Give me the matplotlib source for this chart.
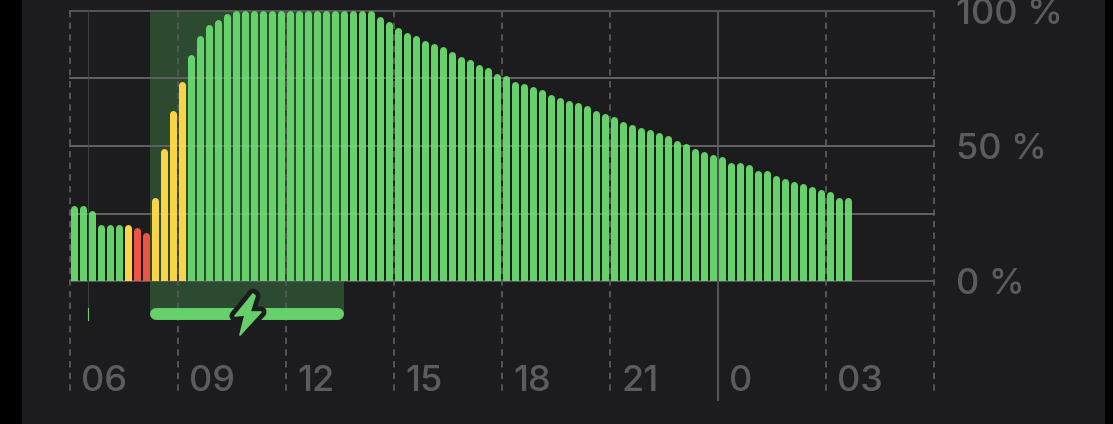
import numpy as np
import matplotlib
matplotlib.use('Agg')
import matplotlib.pyplot as plt
from matplotlib.patches import PathPatch, Rectangle
from matplotlib.path import Path

# battery level per 15 min, starting at 06:00
levels = [28, 28, 26, 21, 21, 21, 21, 20, 18, 31, 49, 63, 74, 84, 91, 95, 97, 99,
          100, 100, 100, 100, 100, 100, 100, 100, 100, 100, 100, 100, 100, 100, 100, 100,
          98, 96, 94, 92, 91, 89, 88, 87, 85, 83, 82, 80, 79, 77, 76, 74, 73, 72, 71,
          69, 68, 67, 66, 65, 63, 62, 61, 59, 58, 57, 56, 55, 54, 52, 51, 49, 48, 47,
          46, 44, 44, 43, 41, 41, 39, 38, 37, 36, 35, 34, 33, 31, 31]
yellow_bars = [6, 9, 10, 11, 12]
red_bars = [7, 8]

hour_ticks = [6, 9, 12, 15, 18, 21, 24, 27, 30]
hour_labels = ['06', '09', '12', '15', '18', '21', '0', '03']
pct_ticks = [0, 50, 100]
pct_labels = ['0 %', '50 %', '100 %']
grid_levels = [0, 25, 50, 75, 100]
charge_start = 8.22
charge_end = 13.61

BG = '#1c1c1e'
GREEN = '#66d06a'
YELLOW = '#f9d545'
RED = '#ec5545'
GRID = '#565658'
TEXT = '#5c5c5e'
SHADE = '#2c4a2f'
DASH = (0, (3.25, 2.75))

plt.rcParams['font.family'] = ['Inter', 'DejaVu Sans']

fig = plt.figure(figsize=(11.13, 4.24), dpi=100, facecolor='black')
ax = fig.add_axes([0, 0, 1, 1])
ax.set_xlim(6 - 70 / 36, 6 + 1043 / 36)
ax.set_ylim((281 - 424) / 2.7, 281 / 2.7)
ax.axis('off')


def px(x, y):
    return 6 + (x - 70) / 36, (281 - y) / 2.7


# panel
ax.add_patch(Rectangle(px(22, 424), 1083 / 36, 424 / 2.7, fc=BG, ec='none', zorder=0))

# charging band
ax.axvspan(charge_start, charge_end, ymin=(424 - 314) / 424, ymax=(424 - 11) / 424,
           fc=SHADE, ec='none', zorder=1)

# grid
y_low = px(0, 396)[1]
for g in grid_levels:
    ax.plot([hour_ticks[0], hour_ticks[-1]], [g, g], color=GRID, lw=1.4, zorder=2)
for h in hour_ticks:
    if h == 24:
        ax.plot([h, h], [100, px(0, 400)[1]], color=GRID, lw=1.4, zorder=2)
    else:
        ax.plot([h, h], [100, y_low], color=GRID, lw=1.4, ls=DASH, zorder=2)
ax.plot([6.5, 6.5], [100, px(0, 320)[1]], color='#3a3e3c', lw=0.8, zorder=2)
ax.plot([6.5, 6.5], [px(0, 308)[1], px(0, 320)[1]], color=GREEN, lw=0.8, zorder=2)

# bars, round top and flat foot
levels = np.array(levels)
xs = 6 + 0.115 + np.arange(len(levels)) * 0.25
colours = np.array([GREEN] * len(levels), dtype=object)
colours[yellow_bars] = YELLOW
colours[red_bars] = RED
cap = 3.5 / 2.7
lines = ax.vlines(xs, 0, levels - cap, colors=list(colours), lw=5.05, capstyle='round', zorder=3)
lines.set_clip_path(Rectangle((4, 0), 32, 110, transform=ax.transData))

# grid shows faintly through the bars
for g in grid_levels[1:-1]:
    ax.plot([hour_ticks[0], hour_ticks[-1]], [g, g], color='white', alpha=0.07, lw=1.4, zorder=3.5)

# charging bar and bolt
bar_y = px(0, 314)[1]
ax.plot([charge_start + 6 / 36, charge_end - 6 / 36], [bar_y, bar_y], color=GREEN, lw=8.6,
        solid_capstyle='round', zorder=4)
bolt_px = [(253, 294), (235, 316), (245, 315), (240, 335), (261, 312), (250, 312), (255, 296), (253, 294)]
bolt = Path([px(*p) for p in bolt_px], closed=True)
ax.add_patch(PathPatch(bolt, fc=BG, ec=BG, lw=8, joinstyle='round', zorder=5))
ax.add_patch(PathPatch(bolt, fc=GREEN, ec=GREEN, lw=1.2, joinstyle='round', zorder=6))

# labels
for h, lab in zip(hour_ticks, hour_labels):
    ax.text(h + 11 / 36, px(0, 378)[1], lab, color=TEXT, fontsize=26, fontweight='medium',
            ha='left', va='center_baseline', zorder=7)
for p, lab in zip(pct_ticks, pct_labels):
    ax.text(px(956, 0)[0], p, lab, color=TEXT, fontsize=26, fontweight='medium',
            ha='left', va='center_baseline', zorder=7)

fig.savefig('out.png', dpi=100, facecolor=fig.get_facecolor())
